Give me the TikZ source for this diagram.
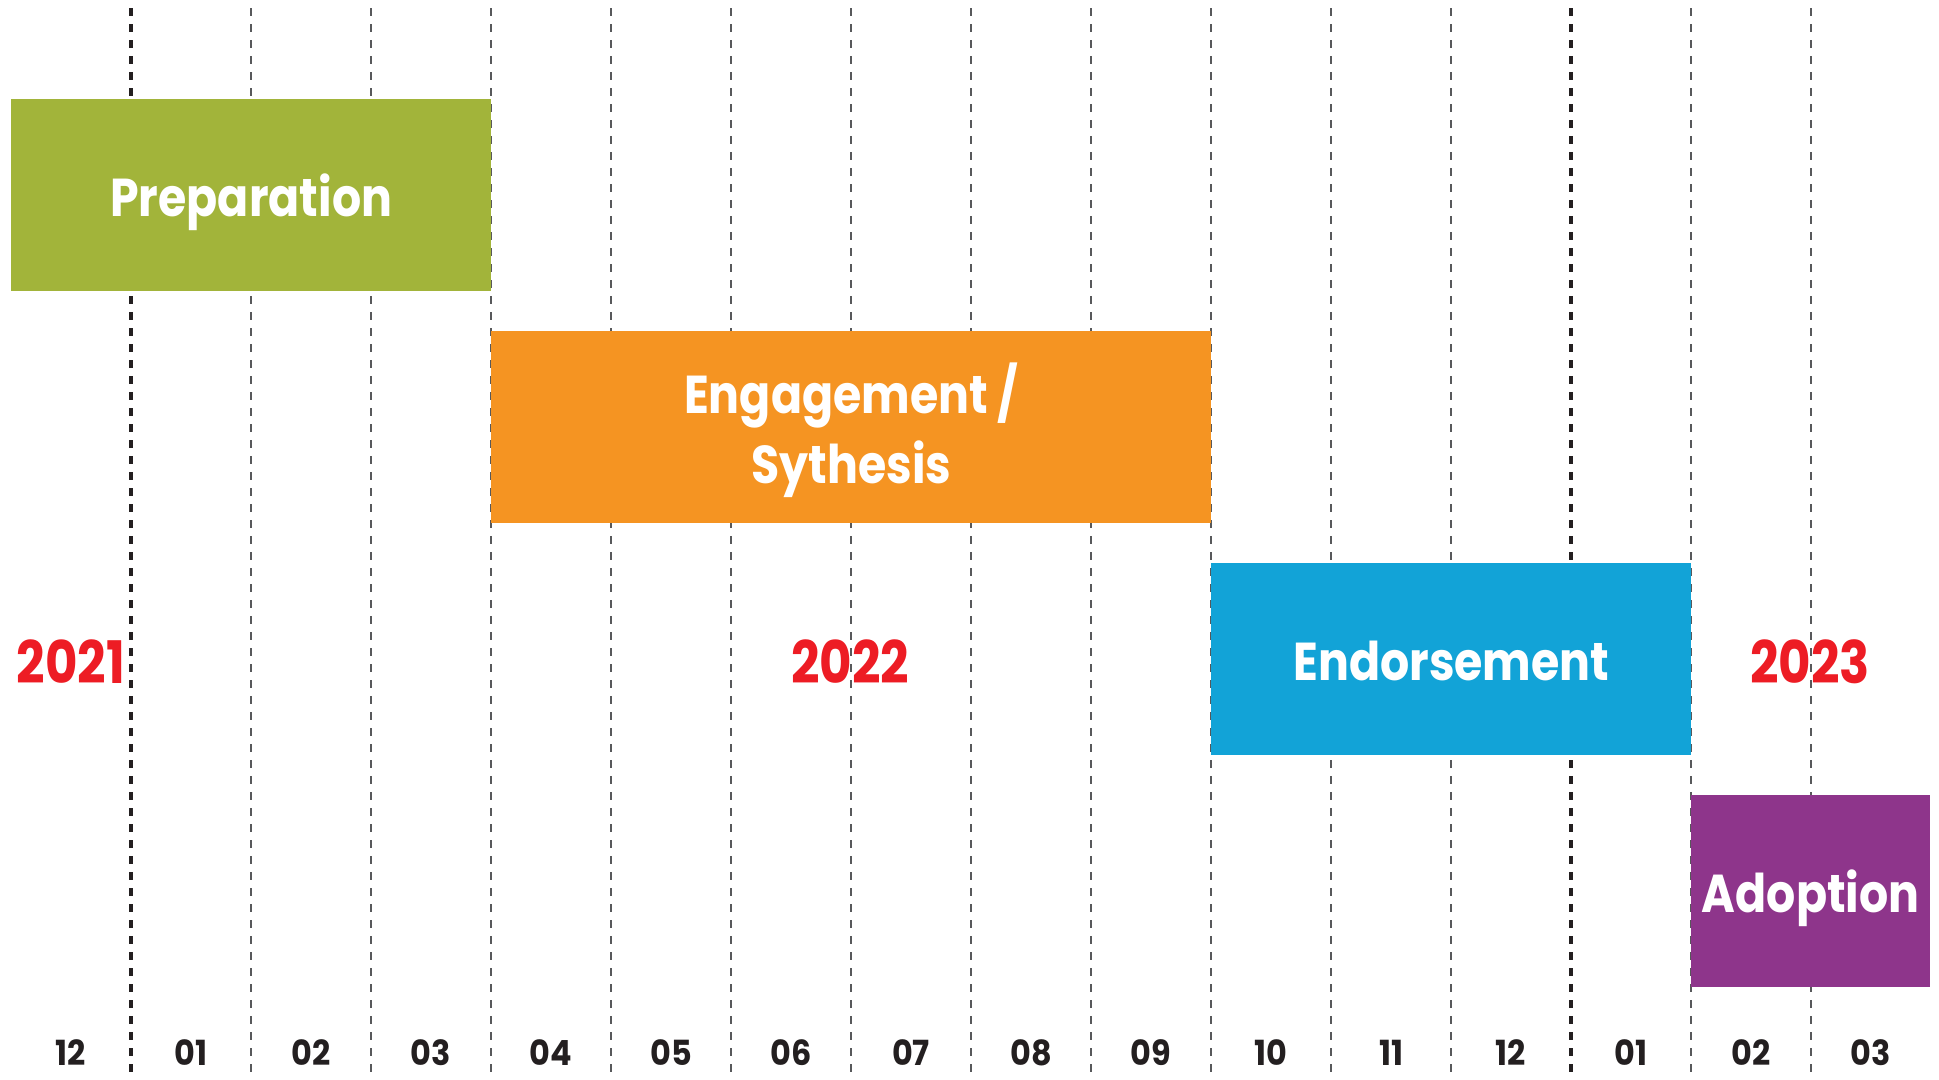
\documentclass[tikz,border=0pt]{standalone}
\usepackage{fontspec}
\setmainfont{Poppins}
\newfontfamily\phasefont{Poppins}[FakeStretch=0.86]
\newfontfamily\yearfont{Poppins}[FakeStretch=0.85]
\newfontfamily\monthfont{Poppins}[FakeStretch=0.92]
\definecolor{prepgreen}{HTML}{A2B43A}
\definecolor{engorange}{HTML}{F59422}
\definecolor{endblue}{HTML}{12A3D7}
\definecolor{adoppurple}{HTML}{8E358B}
\definecolor{yearred}{HTML}{ED1C24}
\definecolor{inkdark}{HTML}{231F20}
\definecolor{gridgrey}{HTML}{58595B}
\begin{document}
\begin{tikzpicture}[x=0.75pt,y=-0.75pt,
  monthline/.style={draw=gridgrey,line width=1.2pt,dash pattern=on 6pt off 6pt},
  yearline/.style={draw=inkdark,line width=3.6pt,dash pattern=on 5.8pt off 6.2pt},
  phase/.style={anchor=north west,inner sep=0pt,minimum height=144pt,
    text=white,align=center,text height=32pt,text depth=0pt,
    font=\phasefont\bfseries\fontsize{40}{52.5}\selectfont},
  yearlabel/.style={anchor=base,inner sep=0pt,text=yearred,
    font=\yearfont\bfseries\fontsize{44}{50}\selectfont},
  monthlabel/.style={anchor=base,inner sep=0pt,text=inkdark,
    font=\monthfont\bfseries\fontsize{26}{30}\selectfont}]
\useasboundingbox (0,0) rectangle (1939,1079);

% month boundaries (thin) and year boundaries (heavy)
\foreach \k in {1,...,11,13,14}
  \draw[monthline] ({131+120*\k},8) -- ({131+120*\k},1079);
\foreach \k in {0,12}
  \draw[yearline] ({131+120*\k},8) -- ({131+120*\k},1079);

% phases
\node[phase,fill=prepgreen,minimum width=360pt] (prep) at (11,99) {Preparation};
\node[phase,fill=engorange,minimum width=540pt,text height=84.5pt] (eng) at (491,331) {Engagement /\\Sythesis};
\node[phase,fill=endblue,minimum width=360pt] (endo) at (1211,563) {Endorsement};
\node[phase,fill=adoppurple,minimum width=179.25pt] (adop) at (1691,795) {Adoption};

% years
\node[yearlabel] (y2021) at (71,683) {2021};
\node[yearlabel] (y2022) at (850,683) {2022};
\node[yearlabel] (y2023) at (1810,683) {2023};

% months
\foreach \m [count=\i from 0] in {12,01,02,03,04,05,06,07,08,09,10,11,12,01,02,03}
  \node[monthlabel] (m\i) at ({71+120*\i},1065) {\m};
\end{tikzpicture}
\end{document}
